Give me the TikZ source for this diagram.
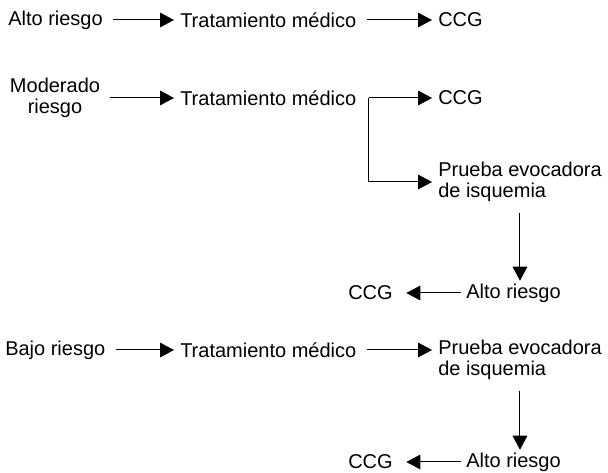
\documentclass[tikz,border=0pt]{standalone}
\usepackage{fontspec}
\setmainfont{Liberation Sans}
\usetikzlibrary{arrows.meta,positioning}
\tikzset{%
   lbl/.style={
      inner sep=0pt,
      anchor=west,
      font=\fontsize{15}{15.5}\selectfont
   },
   lbl2/.style={
      lbl,
      align=left
   },
   arr/.style={
      -{Triangle[length=10.5pt,width=11pt]},
      line width=.75pt,
      shorten <=7.5pt,
      shorten >=4.5pt
   },
   back/.style={
      arr,
      shorten <=4pt,
      shorten >=10pt
   },
   down/.style={
      arr,
      shorten <=8pt,
      shorten >=2pt
   },
}

\begin{document}
\begin{tikzpicture}[x=.75pt, y=-.75pt]
      \useasboundingbox (0,0) rectangle (608,473);
      \node[lbl] (a1) at (8,20) {Alto riesgo};
      \node[lbl] (t1) at (180,20) {Tratamiento médico};
      \node[lbl] (c1) at (438,20) {CCG};
      \path (a1) edge[arr] (t1);
      \path (t1) edge[arr] (c1);
      \node[lbl, anchor=center, align=center] (m2) at (55,98) {Moderado\\riesgo};
      \node[lbl] (t2) at (180,98) {Tratamiento médico};
      \node[lbl] (c2) at (438,98) {CCG};
      \node[lbl2] (p2) at (438,182) {Prueba evocadora\\de isquemia};
      \node[lbl] (h2) at (466,293) {Alto riesgo};
      \node[lbl] (g2) at (348,293) {CCG};
      \coordinate (j2) at ([xshift=9pt]t2.east);
      \path (m2.east |- t2) edge[arr] (t2);
      \draw[arr, shorten <=0pt] (j2) -- (c2);
      \draw[arr, shorten <=0pt] (j2) |- (p2);
      \draw[down] (p2.south) -- (p2.south |- h2.north);
      \path (h2) edge[back] (g2);
      \node[lbl] (b3) at (5,350) {Bajo riesgo};
      \node[lbl] (t3) at (180,350) {Tratamiento médico};
      \node[lbl2] (p3) at (438,360) {Prueba evocadora\\de isquemia};
      \node[lbl] (h3) at (466,462) {Alto riesgo};
      \node[lbl] (g3) at (348,462) {CCG};
      \path (b3) edge[arr] (t3);
      \draw[arr] (t3.east) -- (t3.east -| p3.west);
      \draw[down] (p3.south) -- (p3.south |- h3.north);
      \path (h3) edge[back] (g3);
   \end{tikzpicture}
\end{document}
